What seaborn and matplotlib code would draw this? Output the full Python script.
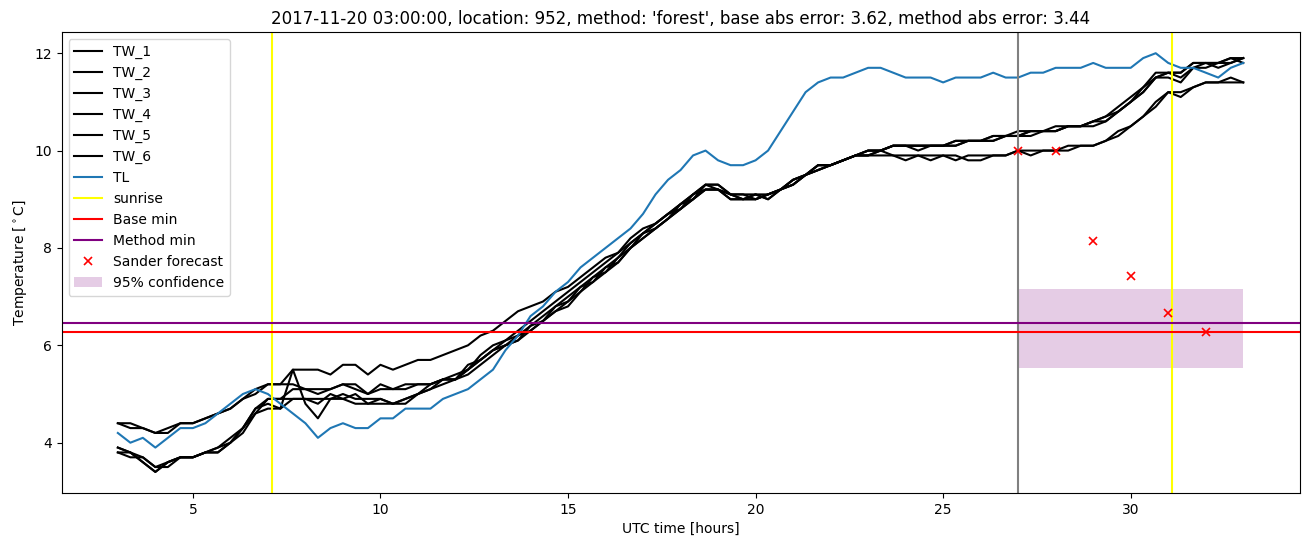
import numpy as np
import pandas as pd
import matplotlib
matplotlib.use("Agg")
import matplotlib.pyplot as plt
import seaborn as sns

# sample times: every 20 minutes from 03:00 (hour 3) to hour 33
hours = 3 + np.arange(91) / 3.0

TL = [4.2, 4.0, 4.1, 3.9, 4.1, 4.3, 4.3, 4.4, 4.6, 4.8,
      5.0, 5.1, 5.0, 4.8, 4.6, 4.4, 4.1, 4.3, 4.4, 4.3,
      4.3, 4.5, 4.5, 4.7, 4.7, 4.7, 4.9, 5.0, 5.1, 5.3,
      5.5, 5.9, 6.2, 6.6, 6.8, 7.1, 7.3, 7.6, 7.8, 8.0,
      8.2, 8.4, 8.7, 9.1, 9.4, 9.6, 9.9, 10.0, 9.8, 9.7,
      9.7, 9.8, 10.0, 10.4, 10.8, 11.2, 11.4, 11.5, 11.5, 11.6,
      11.7, 11.7, 11.6, 11.5, 11.5, 11.5, 11.4, 11.5, 11.5, 11.5,
      11.6, 11.5, 11.5, 11.6, 11.6, 11.7, 11.7, 11.7, 11.8, 11.7,
      11.7, 11.7, 11.9, 12.0, 11.8, 11.7, 11.7, 11.6, 11.5, 11.7, 11.8]

TW_1 = [4.4, 4.4, 4.3, 4.2, 4.2, 4.4, 4.4, 4.5, 4.6, 4.7,
        4.9, 5.1, 5.2, 5.2, 5.5, 5.5, 5.5, 5.4, 5.6, 5.6,
        5.4, 5.6, 5.5, 5.6, 5.7, 5.7, 5.8, 5.9, 6.0, 6.2,
        6.3, 6.5, 6.7, 6.8, 6.9, 7.1, 7.2, 7.4, 7.6, 7.8,
        7.9, 8.2, 8.4, 8.5, 8.7, 8.9, 9.1, 9.3, 9.3, 9.1,
        9.1, 9.1, 9.1, 9.2, 9.4, 9.5, 9.7, 9.7, 9.8, 9.9,
        10.0, 10.0, 10.1, 10.1, 10.1, 10.1, 10.1, 10.2, 10.2, 10.2,
        10.3, 10.3, 10.3, 10.4, 10.4, 10.5, 10.5, 10.5, 10.6, 10.7,
        10.9, 11.1, 11.3, 11.6, 11.6, 11.6, 11.8, 11.8, 11.8, 11.8, 11.9]

TW_2 = [4.4, 4.3, 4.3, 4.2, 4.3, 4.4, 4.4, 4.5, 4.6, 4.7,
        4.9, 5.0, 5.2, 5.2, 5.2, 5.1, 5.1, 5.1, 5.2, 5.2,
        5.0, 5.2, 5.1, 5.2, 5.2, 5.2, 5.3, 5.4, 5.5, 5.8,
        6.0, 6.1, 6.3, 6.5, 6.7, 6.9, 7.1, 7.3, 7.5, 7.7,
        7.9, 8.1, 8.3, 8.5, 8.7, 8.9, 9.0, 9.2, 9.2, 9.0,
        9.0, 9.0, 9.1, 9.2, 9.3, 9.5, 9.6, 9.7, 9.8, 9.9,
        10.0, 10.0, 10.1, 10.1, 10.0, 10.1, 10.1, 10.1, 10.2, 10.2,
        10.2, 10.3, 10.3, 10.4, 10.4, 10.4, 10.5, 10.5, 10.6, 10.6,
        10.8, 11.0, 11.2, 11.5, 11.6, 11.5, 11.7, 11.8, 11.8, 11.9, 11.9]

TW_3 = [3.9, 3.8, 3.7, 3.5, 3.6, 3.7, 3.7, 3.8, 3.8, 4.0,
        4.3, 4.7, 4.9, 4.9, 5.1, 5.1, 5.0, 5.1, 5.2, 5.1,
        5.0, 5.1, 5.1, 5.1, 5.2, 5.2, 5.3, 5.3, 5.5, 5.7,
        5.9, 6.1, 6.2, 6.4, 6.6, 6.8, 7.0, 7.2, 7.4, 7.6,
        7.8, 8.1, 8.3, 8.4, 8.6, 8.9, 9.1, 9.3, 9.2, 9.1,
        9.0, 9.1, 9.0, 9.2, 9.4, 9.5, 9.7, 9.7, 9.8, 9.9,
        9.9, 10.0, 10.1, 10.1, 10.1, 10.1, 10.1, 10.2, 10.2, 10.2,
        10.3, 10.3, 10.4, 10.4, 10.4, 10.4, 10.5, 10.5, 10.6, 10.7,
        10.8, 11.0, 11.2, 11.5, 11.5, 11.4, 11.7, 11.7, 11.8, 11.9, 11.8]

TW_4 = [3.8, 3.8, 3.6, 3.4, 3.6, 3.7, 3.7, 3.8, 3.8, 4.0,
        4.2, 4.6, 4.9, 4.9, 4.9, 4.9, 4.9, 4.9, 5.0, 4.9,
        4.9, 4.9, 4.8, 4.9, 5.0, 5.2, 5.3, 5.3, 5.6, 5.7,
        5.9, 6.0, 6.2, 6.3, 6.5, 6.7, 6.9, 7.1, 7.4, 7.5,
        7.8, 8.0, 8.2, 8.4, 8.6, 8.8, 9.0, 9.2, 9.2, 9.0,
        9.0, 9.0, 9.1, 9.2, 9.3, 9.5, 9.6, 9.7, 9.8, 9.9,
        10.0, 10.0, 10.1, 10.1, 10.1, 10.1, 10.1, 10.1, 10.2, 10.2,
        10.2, 10.3, 10.3, 10.3, 10.4, 10.4, 10.5, 10.5, 10.5, 10.6,
        10.8, 11.0, 11.3, 11.5, 11.6, 11.6, 11.8, 11.8, 11.7, 11.8, 11.9]

TW_5 = [3.8, 3.7, 3.7, 3.5, 3.5, 3.7, 3.7, 3.8, 3.9, 4.0,
        4.3, 4.7, 4.8, 4.7, 4.9, 4.9, 4.8, 5.0, 4.9, 4.8,
        4.8, 4.8, 4.8, 4.8, 5.0, 5.1, 5.3, 5.3, 5.5, 5.7,
        5.9, 6.0, 6.1, 6.3, 6.5, 6.7, 6.8, 7.1, 7.3, 7.5,
        7.7, 8.0, 8.2, 8.4, 8.6, 8.8, 9.1, 9.2, 9.2, 9.1,
        9.1, 9.0, 9.1, 9.2, 9.3, 9.5, 9.7, 9.7, 9.8, 9.9,
        9.9, 10.0, 9.9, 9.8, 9.9, 9.9, 9.9, 9.9, 9.8, 9.8,
        9.9, 9.9, 10.0, 10.0, 10.0, 10.0, 10.1, 10.1, 10.1, 10.2,
        10.4, 10.5, 10.7, 11.0, 11.2, 11.2, 11.3, 11.4, 11.4, 11.5, 11.4]

TW_6 = [3.9, 3.8, 3.6, 3.4, 3.6, 3.7, 3.7, 3.8, 3.9, 4.1,
        4.3, 4.6, 4.7, 4.7, 5.5, 4.8, 4.5, 4.9, 4.9, 5.0,
        4.8, 4.9, 4.8, 4.9, 5.0, 5.1, 5.2, 5.3, 5.4, 5.6,
        5.8, 6.0, 6.1, 6.4, 6.5, 6.8, 6.9, 7.2, 7.3, 7.6,
        7.7, 8.0, 8.3, 8.5, 8.7, 8.8, 9.0, 9.3, 9.3, 9.1,
        9.0, 9.1, 9.0, 9.2, 9.4, 9.5, 9.6, 9.7, 9.8, 9.9,
        9.9, 9.9, 9.9, 9.9, 9.9, 9.8, 9.9, 9.8, 9.9, 9.9,
        9.9, 9.9, 10.0, 9.9, 10.0, 10.0, 10.0, 10.1, 10.1, 10.2,
        10.3, 10.5, 10.7, 10.9, 11.2, 11.1, 11.3, 11.4, 11.4, 11.4, 11.4]

tw_series = {"TW_1": TW_1, "TW_2": TW_2, "TW_3": TW_3,
             "TW_4": TW_4, "TW_5": TW_5, "TW_6": TW_6}

sunrise_hours = [7.1, 31.1]
forecast_start = 27.0
base_min = 6.28
method_min = 6.46

sander_hours = [27, 28, 29, 30, 31, 32]
sander_values = [10.0, 10.0, 8.15, 7.42, 6.66, 6.28]

conf_hours = [27, 33]
conf_lower = [5.54, 5.54]
conf_upper = [7.15, 7.15]

title = ("2017-11-20 03:00:00, location: 952, method: 'forest', "
         "base abs error: 3.62, method abs error: 3.44")

fig, ax = plt.subplots(figsize=(13.1, 5.47), dpi=100)
fig.subplots_adjust(left=0.047, right=0.992, bottom=0.099, top=0.941)

for name, vals in tw_series.items():
    sns.lineplot(x=hours, y=vals, color="black", label=name, ax=ax, linewidth=1.5)
sns.lineplot(x=hours, y=TL, color="#1f77b4", label="TL", ax=ax, linewidth=1.5)

ax.axvline(sunrise_hours[0], color="yellow", label="sunrise", linewidth=1.5)
ax.axvline(sunrise_hours[1], color="yellow", linewidth=1.5)
ax.axvline(forecast_start, color="grey", linewidth=1.5)
ax.axhline(base_min, color="red", label="Base min", linewidth=1.5)
ax.axhline(method_min, color="purple", label="Method min", linewidth=1.5)
ax.plot(sander_hours, sander_values, "x", color="red", label="Sander forecast",
        markersize=6, markeredgewidth=1.2)
ax.fill_between(conf_hours, conf_lower, conf_upper, color="purple", alpha=0.2,
                linewidth=0, label="95% confidence")

ax.set_title(title, fontsize=12)
ax.set_xlabel("UTC time [hours]")
ax.set_ylabel("Temperature [$^\\circ$C]")
ax.legend(loc="upper left")

fig.savefig("out.png", dpi=100)
